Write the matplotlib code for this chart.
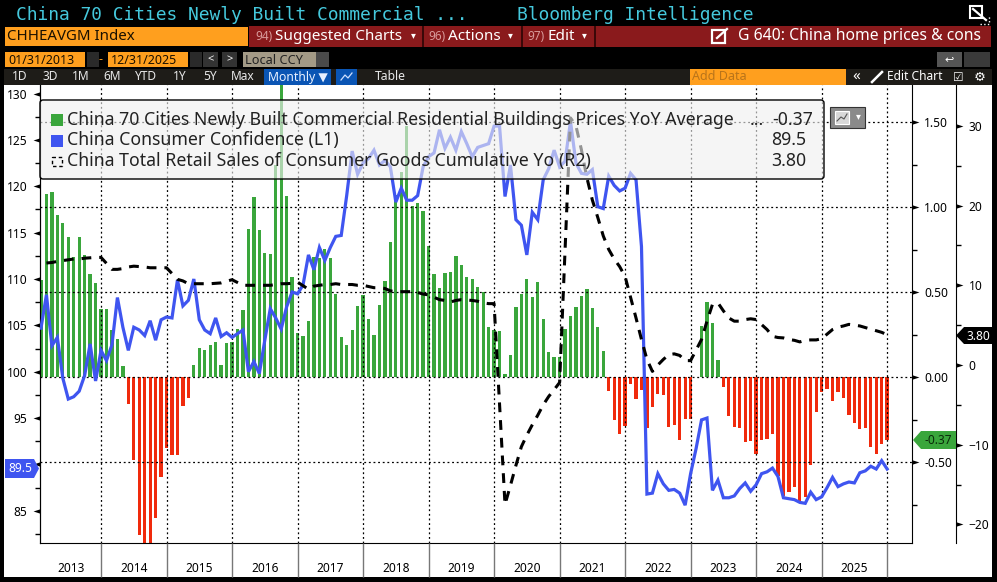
import numpy as np
import matplotlib
matplotlib.use("Agg")
import matplotlib.pyplot as plt
from matplotlib.patches import Rectangle, FancyBboxPatch, Polygon
from matplotlib.path import Path

plt.rcParams["font.family"] = ["Noto Sans", "DejaVu Sans"]

W, H = 997, 582

# Data, one value per month from Jan 2013 to Dec 2025
YEARS = list(range(2013, 2026))

# China 70 cities prices YoY (R1)
prices_yoy = [
    0.57, 1.08, 1.09, 0.955, 0.91, 0.825, 0.71, 0.825, 0.72, 0.61, 0.555, 0.40,
    0.40, 0.28, 0.225, 0.067, -0.155, -0.486, -0.93, -1.0, -1.0, -0.83, -0.586, -0.416,
    -0.457, -0.457, -0.17, -0.12, 0.07, 0.17, 0.16, 0.19, 0.21, 0.07, 0.20, 0.21,
    0.285, 0.395, 0.87, 1.06, 0.865, 0.73, 0.725, 1.25, 1.8, 1.066, 0.59, 0.26,
    0.243, 0.33, 0.71, 0.70, 0.755, 0.70, 0.49, 0.237, 0.19, 0.278, 0.42, 0.484,
    0.343, 0.25, 0.425, 0.567, 0.796, 1.07, 1.21, 1.475, 1.008, 1.025, 0.978, 0.77,
    0.608, 0.525, 0.614, 0.62, 0.714, 0.66, 0.59, 0.578, 0.53, 0.50, 0.296, 0.28,
    0.27, 0.02, 0.13, 0.414, 0.49, 0.578, 0.47, 0.56, 0.343, 0.15, 0.12, 0.12,
    0.284, 0.36, 0.414, 0.478, 0.52, 0.408, 0.296, 0.155, -0.08, -0.25, -0.333, -0.286,
    -0.04, -0.127, -0.075, -0.30, -0.175, -0.10, -0.104, -0.29, -0.28, -0.37, -0.245, -0.245,
    0.0, 0.30, 0.443, 0.32, 0.10, -0.057, -0.227, -0.29, -0.298, -0.38, -0.374, -0.45,
    -0.37, -0.363, -0.333, -0.58, -0.70, -0.675, -0.645, -0.727, -0.704, -0.516, -0.204, -0.086,
    -0.069, -0.139, -0.086, -0.12, -0.22, -0.27, -0.304, -0.298, -0.41, -0.45, -0.39, -0.37,
]

# China consumer confidence (L1)
consumer_conf = [
    104.7, 108.3, 102.8, 103.7, 99.3, 97.05, 97.3, 97.9, 99.6, 103, 99, 102.3,
    101.2, 102.9, 108, 104.8, 102.3, 104.8, 104.5, 103.9, 105.5, 103.4, 105.6, 105.9,
    105.8, 109.9, 107.1, 107.7, 110, 105.6, 104.5, 104.1, 105.8, 103.8, 104.2, 103.7,
    104.1, 104.5, 100, 101.1, 99.8, 103.4, 106.8, 105.8, 104.6, 107, 108.6, 108.4,
    109.35, 112.6, 111, 113.4, 112, 113.4, 114.6, 114.7, 119, 123.8, 121.3, 122.5,
    123, 123.9, 122.3, 122.8, 122.1, 118.3, 119.8, 118.5, 118.5, 119, 122.1, 123.2,
    123.6, 126.1, 124.1, 125.3, 123.9, 125.9, 124.6, 123.2, 124.2, 124.4, 124.6, 126.5,
    126.5, 118.9, 122.3, 116.4, 115.8, 112.6, 117.2, 116.4, 120.7, 121.9, 123.9, 122.1,
    122.7, 127, 122.5, 121.4, 121.3, 121.8, 117.8, 117.6, 121.1, 120.1, 119.5, 119.8,
    121.4, 120.7, 113.5, 86.8, 86.9, 89, 87.9, 87.2, 87.3, 86.9, 85.6, 89.0,
    91.7, 94.8, 95.0, 87.2, 88.3, 86.4, 86.4, 86.6, 87.4, 88.0, 87.1, 87.8,
    89, 89.2, 89.6, 88.7, 86.4, 86.3, 86.2, 85.9, 85.8, 87, 86.2, 86.5,
    87.5, 88.6, 87.6, 87.9, 88.1, 88, 89.1, 89.3, 89.8, 89.5, 90.4, 89.5,
]

# China retail sales cumulative YoY (R2), no January prints
retail_sales = [
    None, 12.8, 12.86, 13.0, 13.1, 13.2, 13.3, 13.3, 13.4, 13.45, 13.5, 13.5,
    None, 12.0, 12.0, 12.1, 12.3, 12.4, 12.35, 12.3, 12.2, 12.2, 12.2, 12.2,
    None, 10.75, 10.55, 10.2, 10.2, 10.2, 10.2, 10.2, 10.25, 10.3, 10.5, 10.7,
    None, 10.0, 10.0, 10.0, 10.0, 10.0, 10.0, 10.1, 10.2, 10.2, 10.25, 10.4,
    None, 9.5, 9.9, 10.0, 10.1, 10.1, 10.2, 10.1, 10.1, 10.1, 10.0, 10.0,
    None, 9.7, 9.7, 9.6, 9.3, 9.2, 9.2, 9.2, 9.2, 9.1, 8.9, 8.8,
    None, 8.2, 8.1, 7.9, 8.1, 8.2, 8.15, 8.1, 8.0, 7.8, 7.7, 7.7,
    None, -17.5, -15.1, -12.6, -10.25, -8.8, -7.5, -6.3, -5.0, -3.95, -3.1, -2.2,
    None, 31.0, 30.0, 27.0, 23.5, 20.7, 18.5, 16.2, 14.5, 13.3, 12.35, 11.1,
    None, 5.9, 3.2, 0.7, -0.8, 0.0, 0.7, 1.3, 1.4, 1.2, 0.55, 0.55,
    None, 3.2, 5.5, 7.6, 7.8, 6.8, 5.9, 5.5, 5.5, 5.7, 5.8, 5.7,
    None, 4.45, 3.6, 3.45, 3.4, 3.2, 3.1, 2.9, 3.1, 3.15, 3.15, 3.3,
    None, 4.45, 4.75, 4.9, 5.1, 5.0, 4.9, 4.7, 4.5, 4.3, 4.1, 3.8,
]

L1_TICKS = [85, 90, 95, 100, 105, 110, 115, 120, 125, 130]
L1_LABELS = ["85", "", "95", "100", "105", "110", "115", "120", "125", "130"]
R1_TICKS = [-0.5, 0.0, 0.5, 1.0, 1.5]
R2_TICKS = [-20, -10, 0, 10, 20, 30]

GREEN = "#3aa63c"
RED = "#f02a0c"
BLUE = "#3f55f0"
DARK_RED = "#8a1a1c"
ORANGE = "#ff9f1e"
CYAN = "#45c8dc"

# triangle tick shapes, tip away from the axis
TRI_L = Path([(-1, 0), (0, 0.32), (0, -0.32), (-1, 0)], closed=True)
TRI_R = Path([(1, 0), (0, 0.32), (0, -0.32), (1, 0)], closed=True)


def style_ticks(axis_ticks, left):
    for t in axis_ticks:
        line = t.tick1line if left else t.tick2line
        line.set_marker(TRI_L if left else TRI_R)
        line.set_markersize(10)
        line.set_markerfacecolor("black")
        line.set_markeredgewidth(0)


fig = plt.figure(figsize=(W / 100, H / 100), dpi=100, facecolor="black")

bg = fig.add_axes([0, 0, 1, 1], zorder=0)
bg.set_xlim(0, W)
bg.set_ylim(H, 0)
bg.axis("off")
bg.add_patch(Rectangle((4, 85), 988, 492, fc="white", ec="none"))

rect = [40 / W, (H - 543) / H, 871.7 / W, 458 / H]
ax = fig.add_axes(rect, zorder=1, facecolor="none")
ax_l = ax.twinx()
ax_r2 = ax.twinx()
ax_l.set_zorder(2)
ax_r2.set_zorder(3)
ax_l.patch.set_visible(False)
ax_r2.patch.set_visible(False)

months = np.arange(len(prices_yoy))
vals = np.array(prices_yoy)
ax.bar(months, vals, width=0.6, color=[GREEN if v >= 0 else RED for v in vals], zorder=1)
ax.set_xlim(-0.18, 159.5)
ax.set_ylim(-0.975, 1.719)
ax.yaxis.tick_right()
ax.set_yticks(R1_TICKS)
ax.set_yticklabels(["-0.50", "0.00", "0.50", "1.00", "1.50"])
ax.set_yticks([-0.75, -0.25, 0.25, 0.75, 1.25], minor=True)
ax.tick_params(axis="y", which="major", length=7, pad=2, labelsize=8.6)
ax.tick_params(axis="y", which="minor", length=3.5, width=1)

# December gridlines and year dividers
dec_idx = [12 * (i + 1) - 1 for i in range(len(YEARS))]
ax.set_xticks(dec_idx)
ax.set_xticklabels([])
mids = [(dec_idx[i] + (dec_idx[i - 1] if i else 0)) / 2 for i in range(len(YEARS))]
ax.set_xticks(mids, minor=True)
ax.set_xticklabels([str(y) for y in YEARS], minor=True, fontsize=8.6)
ax.tick_params(axis="x", which="major", length=24.5, color="#777777", width=1)
ax.tick_params(axis="x", which="minor", length=0, pad=14)
ax.grid(True, which="major", color="black", ls=(0, (1.5, 2.2)), lw=0.9, zorder=2)
ax.set_axisbelow(False)

ax_l.plot(months, consumer_conf, color=BLUE, lw=2.3, solid_joinstyle="miter", zorder=3)
ax_l.set_ylim(81.52, 130.93)
ax_l.yaxis.tick_left()
ax_l.set_yticks(L1_TICKS)
ax_l.set_yticklabels(L1_LABELS)
ax_l.set_yticks(np.arange(82.5, 130, 5), minor=True)
ax_l.tick_params(axis="y", which="major", length=7, pad=2, labelsize=8.6)
ax_l.tick_params(axis="y", which="minor", length=3.5, width=1)

rs_x = [i for i, v in enumerate(retail_sales) if v is not None]
rs_y = [v for v in retail_sales if v is not None]
ax_r2.plot(rs_x, rs_y, color="black", lw=2.2, ls=(0, (3.2, 2.6)), zorder=4)
ax_r2.set_ylim(-22.33, 35.13)
ax_r2.yaxis.tick_right()
ax_r2.spines["right"].set_position(("outward", 31.9))
ax_r2.set_yticks(R2_TICKS)
ax_r2.set_yticks([-15, -5, 5, 15, 25], minor=True)
ax_r2.tick_params(axis="y", which="major", length=7, pad=2, labelsize=8.6)
ax_r2.tick_params(axis="y", which="minor", length=3.5, width=1)

for a in (ax, ax_l, ax_r2):
    a.spines["top"].set_visible(False)
ax_l.spines["right"].set_visible(False)
ax_r2.spines["left"].set_visible(False)
ax_r2.spines["bottom"].set_visible(False)
ax_l.spines["bottom"].set_visible(False)

style_ticks(ax.yaxis.get_major_ticks(), False)
style_ticks(ax_l.yaxis.get_major_ticks(), True)
style_ticks(ax_r2.yaxis.get_major_ticks(), False)

# Terminal chrome drawn in pixel coordinates on top
ui = fig.add_axes([0, 0, 1, 1], zorder=10, facecolor="none")
ui.set_xlim(0, W)
ui.set_ylim(H, 0)
ui.axis("off")


def box(x, y, w, h, color, **kw):
    ui.add_patch(Rectangle((x, y), w, h, fc=color, ec="none", **kw))


def label(x, y, s, color="white", size=9.2, ha="left", **kw):
    ui.text(x, y, s, color=color, fontsize=size, ha=ha, va="center", **kw)


label(16, 15, "China 70 Cities Newly Built Commercial ...", CYAN, 12.85, family="DejaVu Sans Mono")
label(517, 15, "Bloomberg Intelligence", CYAN, 12.85, family="DejaVu Sans Mono")

box(5, 27, 243, 19, ORANGE)
label(7, 37, "CHHEAVGM Index", "#1a1000", 10.8)
box(249, 26, 742, 21, DARK_RED)
for sep in (422, 521, 594):
    box(sep, 26, 1.5, 21, "#3a0808")
label(255, 36, "94)", "#d89a9a", 8.5)
label(275, 36, "Suggested Charts", "white", 11)
label(411, 36, "▾", "white", 7)
label(428, 36, "96)", "#d89a9a", 8.5)
label(448, 36, "Actions", "white", 11)
label(508, 36, "▾", "white", 7)
label(527, 36, "97)", "#d89a9a", 8.5)
label(547, 36, "Edit", "white", 11)
label(582, 36, "▾", "white", 7)
label(738, 36, "G 640: China home prices & cons", "white", 11.3)
ui.add_patch(Rectangle((712, 30), 13, 13, fc="none", ec="white", lw=1.6))
ui.plot([717, 727], [38, 29], color="white", lw=1.6)

# date row
box(5, 52, 80, 15, ORANGE)
label(8, 60, "01/31/2013", "#1a1000", 9)
box(108, 52, 80, 15, ORANGE)
label(111, 60, "12/31/2025", "#1a1000", 9)
label(98, 60, "-", ORANGE, 9)
for x in (87, 190):
    box(x, 52, 12, 15, "#2a2a2a")
for x, s in ((203, "<"), (222, ">")):
    box(x, 52, 15, 15, "#333333")
    label(x + 7.5, 60, s, "white", 8, ha="center")
box(243, 52, 73, 15, "#a39a86")
box(316, 52, 13, 15, "#4a4a4a")
label(245, 60, "Local CCY", "#222222", 9.2)
box(937, 52, 25, 15, "#555555")
box(964, 52, 26, 15, "#3a3a3a")
label(949, 60, "↩", "white", 8, ha="center")

# period buttons
box(4, 69, 988, 16, "#1e1c18")
periods = ["1D", "3D", "1M", "6M", "YTD", "1Y", "5Y", "Max"]
for x, s in zip((20, 50, 81, 112, 146, 180, 210, 243), periods):
    label(x, 77, s, "#e8e8e8", 8.6, ha="center")
box(264, 69, 67, 16, "#0a55b4")
label(268, 77, "Monthly ▼", "#e8f0ff", 8.8)
box(336, 69, 21, 16, "#0a55b4")
ui.plot([341, 345, 348, 352], [80, 75, 78, 73], color="#cfe0ff", lw=0.9)
label(390, 77, "Table", "#e8e8e8", 8.8, ha="center")
box(690, 69, 156, 16, ORANGE)
label(692, 77, "Add Data", "#b9741a", 9)
label(856, 77, "«", "white", 11, ha="center")
ui.plot([872, 882], [82, 72], color="white", lw=1.8)
label(887, 77, "Edit Chart", "white", 8.6)
label(958, 77, "☑", "white", 8.5, ha="center")
label(980, 77, "⚙", "white", 9.5, ha="center")

# corner icon
ui.add_patch(Rectangle((970, 6), 12, 12, fc="none", ec="white", lw=1.5))
ui.plot([973, 986], [9, 20], color="white", lw=1.6)
ui.plot([980, 989, 989], [24, 24, 15], color="white", lw=1, ls=":")

# legend
ui.add_patch(FancyBboxPatch((40, 100), 784, 79, boxstyle="round,pad=0,rounding_size=3",
                            fc=(0.94, 0.94, 0.94, 0.62), ec="none"))
ui.add_patch(FancyBboxPatch((40, 100), 784, 79, boxstyle="round,pad=0,rounding_size=3",
                            fc="none", ec="black", lw=1))
box(51, 114, 12, 12, GREEN)
box(51, 135, 12, 12, BLUE)
ui.add_patch(Rectangle((51.5, 157), 10, 9, fc="none", ec="black", lw=1, ls=(0, (2.5, 2))))
LEG = "#222222"
LEG_SIZE = 12.75
label(67, 120, "China 70 Cities Newly Built Commercial Residential Buildings Prices YoY Average", LEG, LEG_SIZE)
label(67, 140, "China Consumer Confidence (L1)", LEG, LEG_SIZE)
label(67, 161, "China Total Retail Sales of Consumer Goods Cumulative Yo (R2)", LEG, LEG_SIZE)
label(750, 120, "...", LEG, LEG_SIZE)
label(772, 120, "-0.37", LEG, LEG_SIZE)
label(771, 140, "89.5", LEG, LEG_SIZE)
label(771, 161, "3.80", LEG, LEG_SIZE)
ui.add_patch(Rectangle((830, 107), 35, 21, fc="#8a8a8a", ec="#333333", lw=0.8))
ui.add_patch(Rectangle((835, 111), 14, 13, fc="#d8d8d8", ec="white", lw=0.8))
ui.plot([837, 841, 844, 847], [121, 117, 119, 114], color="#555555", lw=0.8)
label(858, 117, "▾", "white", 7, ha="center")

# last value tags
ui.add_patch(Polygon([(956, 335.5), (964, 327), (992, 327), (992, 344), (964, 344)], fc="black", ec="none"))
label(978, 336, "3.80", "white", 8.6, ha="center")
ui.add_patch(Polygon([(913, 440), (921, 431), (956, 431), (956, 449), (921, 449)], fc=GREEN, ec="none"))
label(938, 440.5, "-0.37", "#0a2a0a", 8.6, ha="center")
ui.add_patch(Polygon([(5, 459), (34, 459), (39, 468.5), (34, 478), (5, 478)], fc=BLUE, ec="none"))
label(20, 469, "89.5", "white", 8.6, ha="center")

fig.savefig("out.png", dpi=100, facecolor="black")
